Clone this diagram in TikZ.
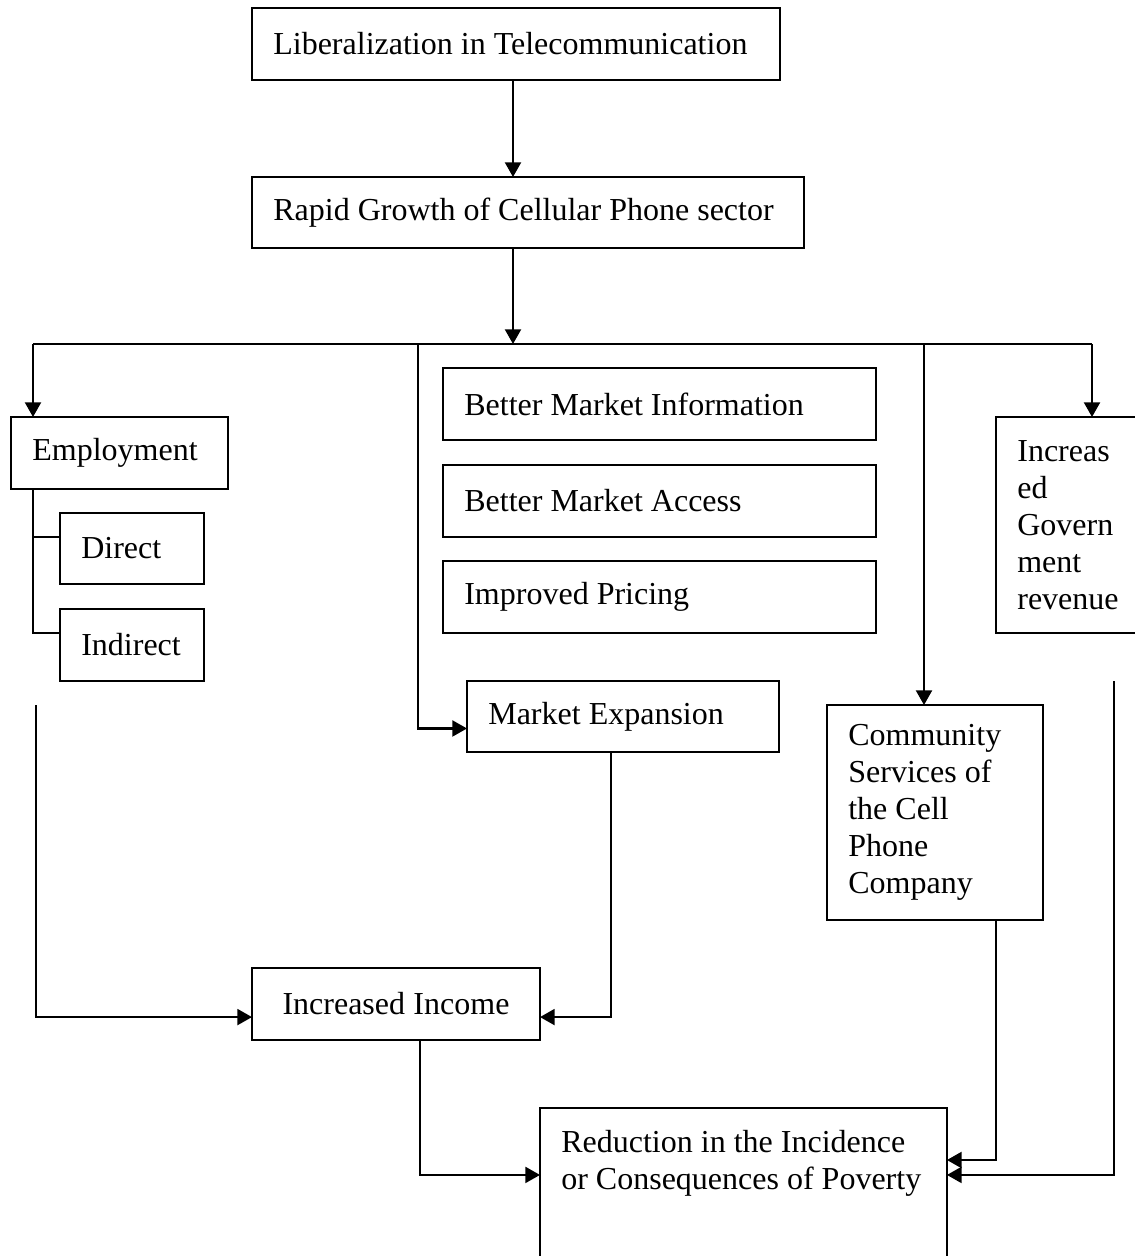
\documentclass[tikz,border=0pt]{standalone}
\usepackage{fontspec}
\setmainfont{Liberation Serif}
\usetikzlibrary{arrows.meta}

\begin{document}
\begin{tikzpicture}[x=0.375pt,y=-0.375pt,
  box/.style={draw,line width=0.8pt,anchor=north west,align=left,inner xsep=8pt,inner ysep=2pt,outer sep=0pt,
    font=\fontsize{12pt}{13.9pt}\selectfont,
    execute at begin node={\spaceskip=3pt plus 1pt minus 0.5pt\relax\hyphenpenalty=10000\relax}},
  wire/.style={line width=0.8pt},
  arr/.style={line width=0.8pt,-{Triangle[length=5.5pt,width=6pt]}}]
\useasboundingbox (0,0) rectangle (1135,1256);

\node[box,text width=182pt,minimum height=27pt] (lib) at (252,8) {Liberalization in Telecommunication};
\node[box,text width=191pt,minimum height=26.6pt] (rapid) at (252,177) {Rapid Growth of Cellular Phone sector};

\node[box,text width=65.4pt,minimum height=27pt] (emp) at (11,417) {Employment};
\node[box,text width=38pt,minimum height=26.6pt] (direct) at (60,513) {Direct};
\node[box,text width=38pt,minimum height=27pt] (indirect) at (60,609) {Indirect};

\node[box,text width=146.4pt,minimum height=27pt] (info) at (443,368) {Better Market Information};
\node[box,text width=146.4pt,minimum height=27pt] (access) at (443,465) {Better Market Access};
\node[box,text width=146.4pt,minimum height=27pt] (pricing) at (443,561) {Improved Pricing};
\node[box,text width=101pt,minimum height=26.6pt] (mexp) at (467,681) {Market Expansion};

\node[box,text width=65pt,minimum height=80.6pt] (comm) at (827,705) {Community\\Services of\\the Cell\\Phone\\Company};
\node[box,text width=48pt,minimum height=81pt] (gov) at (996,417) {Increas\\ed\\Govern\\ment\\revenue};

\node[box,text width=92pt,minimum height=27pt,align=center] (inc) at (252,968) {Increased Income};
\node[box,text width=136.6pt,minimum height=57pt] (red) at (540,1108) {Reduction in the Incidence\\or Consequences of Poverty\\ \strut};

\coordinate (split) at (513,344);
\coordinate (busL) at (33,344);
\coordinate (busM) at (418,344);
\coordinate (busC) at (924,344);
\coordinate (busR) at (1092,344);
\coordinate (empEnd) at (36,705);
\coordinate (govEnd) at (1114,681);

\draw[arr] (split |- lib.south) -- (split |- rapid.north);
\draw[arr] (split |- rapid.south) -- (split);
\draw[wire] (busL) -- (busR);
\draw[arr] (busL) -- (busL |- emp.north);
\draw[arr] (busR) -- (busR |- gov.north);
\draw[arr] (busC) -- (busC |- comm.north);
\draw[arr] (busM) |- ([yshift=-4.5pt]mexp.west);

\draw[wire] (busL |- emp.south) |- ([yshift=4.5pt]indirect.west);
\draw[wire] ([yshift=4.3pt]direct.west) -- ++(-27,0);

\draw[arr] (empEnd) |- ([yshift=-4.9pt]inc.west);
\draw[arr] ([xshift=-4.5pt]mexp.south) |- ([yshift=-4.9pt]inc.east);
\draw[arr] ([xshift=9pt]inc.south) |- ([yshift=3.4pt]red.west);
\draw[arr] ([xshift=22.9pt]comm.south) |- ([yshift=9pt]red.east);
\draw[arr] (govEnd) |- ([yshift=3.4pt]red.east);
\end{tikzpicture}
\end{document}
